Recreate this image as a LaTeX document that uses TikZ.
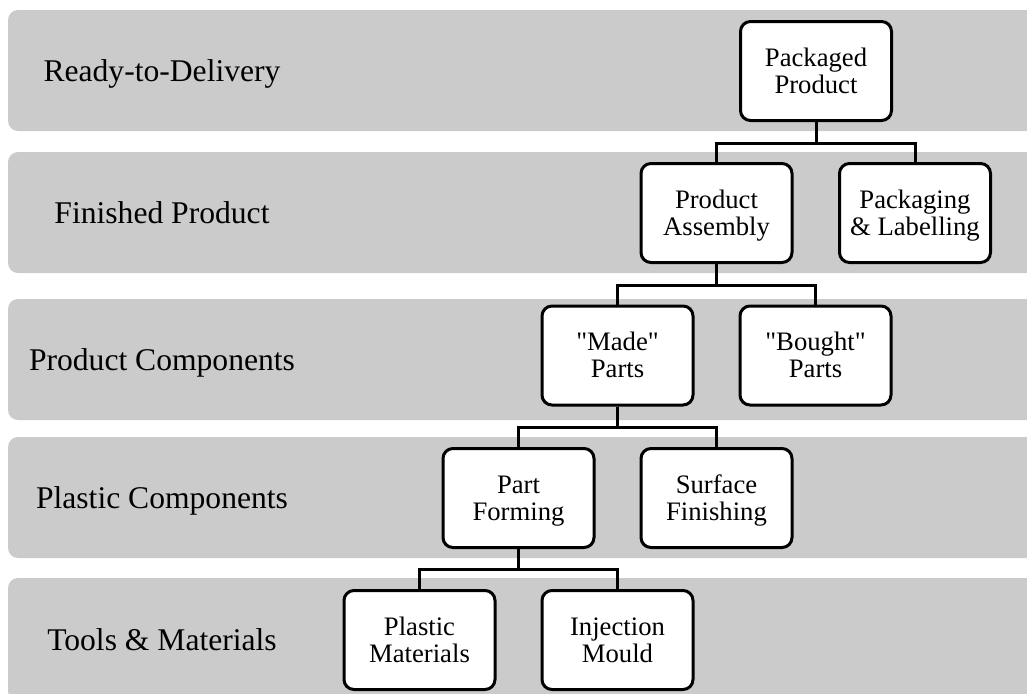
\documentclass[tikz,border=0pt]{standalone}
\usepackage{fontspec}
\setmainfont{Liberation Serif}[Ligatures=TeXOff]
\definecolor{bandgray}{RGB}{203,203,203}
% two centred lines whose block runs from cap height of the first line to the last baseline
\newcommand\twolines[2]{\vphantom{P}\smash{#1}\\\smash{#2}}
\begin{document}
\begin{tikzpicture}[x=0.75pt,y=-0.75pt,
  band/.style={fill=bandgray, draw=none, rounded corners=7.5pt},
  bandlabel/.style={anchor=base, inner sep=0pt, font=\fontsize{23.7}{28}\selectfont},
  stepbox/.style={draw, fill=white, line width=2.25pt, rounded corners=7.5pt,
    minimum width=113.25pt, minimum height=74.25pt, inner sep=0pt,
    align=center, font=\fontsize{20}{20}\selectfont},
  link/.style={line width=2.25pt}]
\clip (0,0) rectangle (1027,693);

% level bands
\path[band] (8,10)  rectangle (1050,131);
\path[band] (8,152) rectangle (1050,273);
\path[band] (8,299) rectangle (1050,420);
\path[band] (8,437) rectangle (1050,558);
\path[band] (8,578) rectangle (1050,701);

% level names
\node[bandlabel] (lvl1) at (162,81)  {Ready-to-Delivery};
\node[bandlabel] (lvl2) at (162,223) {Finished Product};
\node[bandlabel] (lvl3) at (162,370) {Product Components};
\node[bandlabel] (lvl4) at (162,508) {Plastic Components};
\node[bandlabel] (lvl5) at (162,650) {Tools \& Materials};

% tree
\node[stepbox] (pp) at (816,71)      {\twolines{Packaged}{Product}};
\node[stepbox] (pa) at (716.5,213)   {\twolines{Product}{Assembly}};
\node[stepbox] (pl) at (915,213)     {\twolines{Packaging}{\& Labelling}};
\node[stepbox] (mp) at (617.5,355.5) {\twolines{"Made"}{Parts}};
\node[stepbox] (bp) at (815.5,355.5) {\twolines{"Bought"}{Parts}};
\node[stepbox] (pf) at (518.5,498)   {\twolines{Part}{Forming}};
\node[stepbox] (sf) at (716.5,498)   {\twolines{Surface}{Finishing}};
\node[stepbox] (pm) at (419.5,640)   {\twolines{Plastic}{Materials}};
\node[stepbox] (im) at (617.5,640)   {\twolines{Injection}{Mould}};

% branch points
\coordinate (j1) at (816,143);
\coordinate (j2) at (716.5,285);
\coordinate (j3) at (617.5,427);
\coordinate (j4) at (518.5,569);

\draw[link] (pp.south) -- (j1);
\draw[link] (pa.north) |- (j1) -| (pl.north);
\draw[link] (pa.south) -- (j2);
\draw[link] (mp.north) |- (j2) -| (bp.north);
\draw[link] (mp.south) -- (j3);
\draw[link] (pf.north) |- (j3) -| (sf.north);
\draw[link] (pf.south) -- (j4);
\draw[link] (pm.north) |- (j4) -| (im.north);
\end{tikzpicture}
\end{document}
